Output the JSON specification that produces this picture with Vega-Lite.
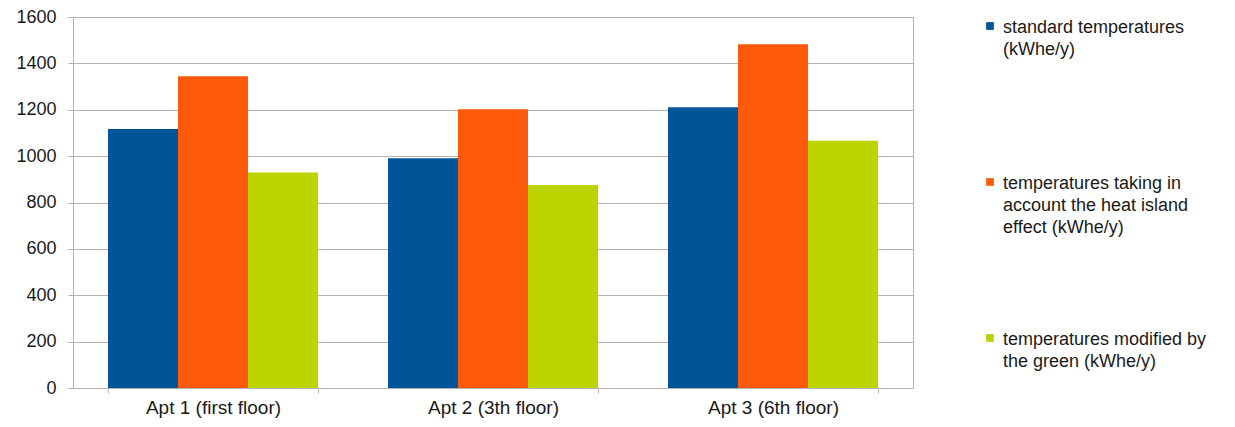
{
  "$schema": "https://vega.github.io/schema/vega-lite/v6.json",
  "width": 840,
  "height": 371,
  "autosize": {"type": "none"},
  "padding": {"left": 73, "top": 17, "right": 322, "bottom": 39},
  "background": "white",
  "config": {
    "font": "Liberation Sans",
    "view": {"stroke": "#b3b3b3", "strokeWidth": 1}
  },
  "data": {
    "values": [
      {"apt": "Apt 1 (first floor)", "series": "standard temperatures (kWhe/y)", "value": 1117},
      {"apt": "Apt 1 (first floor)", "series": "temperatures taking in account the heat island effect (kWhe/y)", "value": 1345},
      {"apt": "Apt 1 (first floor)", "series": "temperatures modified by the green (kWhe/y)", "value": 929},
      {"apt": "Apt 2 (3th floor)", "series": "standard temperatures (kWhe/y)", "value": 991},
      {"apt": "Apt 2 (3th floor)", "series": "temperatures taking in account the heat island effect (kWhe/y)", "value": 1202},
      {"apt": "Apt 2 (3th floor)", "series": "temperatures modified by the green (kWhe/y)", "value": 876},
      {"apt": "Apt 3 (6th floor)", "series": "standard temperatures (kWhe/y)", "value": 1211},
      {"apt": "Apt 3 (6th floor)", "series": "temperatures taking in account the heat island effect (kWhe/y)", "value": 1483},
      {"apt": "Apt 3 (6th floor)", "series": "temperatures modified by the green (kWhe/y)", "value": 1066}
    ]
  },
  "mark": {"type": "bar"},
  "encoding": {
    "x": {
      "field": "apt", "type": "nominal", "sort": null,
      "scale": {"paddingInner": 0.25, "paddingOuter": 0.125},
      "axis": {
        "title": null, "labelAngle": 0, "domainColor": "#b3b3b3", "tickColor": "#b3b3b3",
        "tickBand": "extent", "tickSize": 5, "labelPadding": 5, "grid": false,
        "labelFont": "Liberation Sans", "labelFontSize": 19, "labelColor": "#1a1a1a"
      }
    },
    "xOffset": {
      "field": "series", "type": "nominal", "sort": null,
      "scale": {"paddingInner": 0, "paddingOuter": 0}
    },
    "y": {
      "field": "value", "type": "quantitative",
      "scale": {"domain": [0, 1600], "nice": false},
      "axis": {
        "title": null, "values": [0, 200, 400, 600, 800, 1000, 1200, 1400, 1600], "format": "d",
        "domainColor": "#b3b3b3", "tickColor": "#b3b3b3", "tickSize": 5,
        "gridColor": "#b3b3b3", "gridOpacity": 1, "labelPadding": 12,
        "labelFont": "Liberation Sans", "labelFontSize": 18, "labelColor": "#1a1a1a"
      }
    },
    "color": {
      "field": "series", "type": "nominal", "sort": null,
      "scale": {
        "domain": ["standard temperatures (kWhe/y)", "temperatures taking in account the heat island effect (kWhe/y)", "temperatures modified by the green (kWhe/y)"],
        "range": ["#005598", "#ff5a0a", "#bdd300"]
      },
      "legend": {
        "title": null, "orient": "right", "offset": 68,
        "symbolType": "square", "symbolSize": 60, "symbolStrokeWidth": 0,
        "labelFont": "Liberation Sans", "labelFontSize": 18, "labelColor": "#1a1a1a",
        "labelLimit": 300, "labelBaseline": "top", "labelOffset": 4,
        "labelExpr": "datum.label == 'standard temperatures (kWhe/y)' ? ['standard temperatures', '(kWhe/y)', ''] : datum.label == 'temperatures modified by the green (kWhe/y)' ? ['temperatures modified by', 'the green (kWhe/y)', ''] : ['temperatures taking in', 'account the heat island', 'effect (kWhe/y)']",
        "rowPadding": 92,
        "encode": {"labels": {"update": {"dy": {"value": -7}, "lineHeight": {"value": 22}}}}
      }
    }
  }
}
